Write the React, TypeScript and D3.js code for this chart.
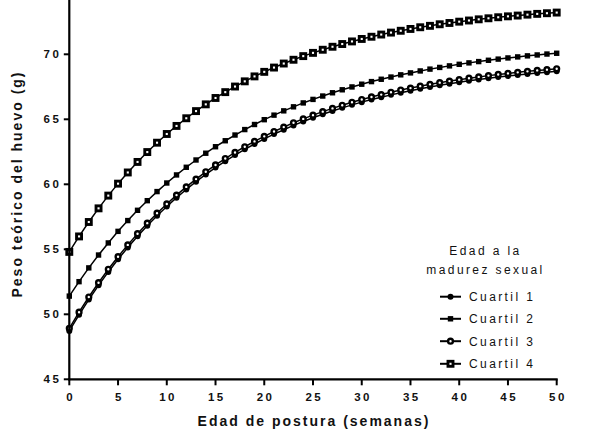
import React from "react";
import * as d3 from "d3";

const weeks: number[] = d3.range(0, 51);

const cuartil1: number[] = [
  48.72, 49.96, 51.13, 52.23, 53.26, 54.23, 55.14, 56.0, 56.81, 57.58,
  58.29, 58.97, 59.6, 60.2, 60.76, 61.29, 61.78, 62.25, 62.69, 63.1,
  63.49, 63.86, 64.2, 64.53, 64.83, 65.12, 65.39, 65.64, 65.88, 66.11,
  66.32, 66.52, 66.7, 66.88, 67.05, 67.2, 67.35, 67.49, 67.62, 67.74,
  67.85, 67.96, 68.06, 68.16, 68.25, 68.33, 68.41, 68.49, 68.56, 68.62, 68.69,
];
const cuartil2: number[] = [
  51.4, 52.51, 53.57, 54.56, 55.49, 56.38, 57.21, 58.0, 58.74, 59.44,
  60.1, 60.72, 61.31, 61.87, 62.39, 62.89, 63.35, 63.79, 64.21, 64.6,
  64.97, 65.32, 65.65, 65.96, 66.26, 66.53, 66.79, 67.04, 67.27, 67.49,
  67.7, 67.9, 68.08, 68.25, 68.42, 68.57, 68.72, 68.86, 68.99, 69.11,
  69.23, 69.34, 69.44, 69.54, 69.63, 69.72, 69.8, 69.88, 69.95, 70.02, 70.08,
];
const cuartil3: number[] = [
  48.92, 50.16, 51.33, 52.43, 53.46, 54.43, 55.34, 56.2, 57.01, 57.78,
  58.49, 59.17, 59.8, 60.4, 60.96, 61.49, 61.98, 62.45, 62.89, 63.3,
  63.69, 64.06, 64.4, 64.73, 65.03, 65.32, 65.59, 65.84, 66.08, 66.31,
  66.52, 66.72, 66.9, 67.08, 67.25, 67.4, 67.55, 67.69, 67.82, 67.94,
  68.05, 68.16, 68.26, 68.36, 68.45, 68.53, 68.61, 68.69, 68.76, 68.82, 68.89,
];
const cuartil4: number[] = [
  54.8, 55.99, 57.1, 58.15, 59.13, 60.05, 60.91, 61.72, 62.48, 63.2,
  63.87, 64.49, 65.08, 65.63, 66.15, 66.64, 67.09, 67.52, 67.92, 68.3,
  68.65, 68.98, 69.29, 69.58, 69.86, 70.11, 70.35, 70.58, 70.79, 70.99,
  71.18, 71.35, 71.52, 71.67, 71.81, 71.95, 72.08, 72.19, 72.31, 72.41,
  72.51, 72.6, 72.69, 72.77, 72.85, 72.92, 72.98, 73.05, 73.11, 73.16, 73.21,
];

const seriesNames: string[] = ["Cuartil 1", "Cuartil 2", "Cuartil 3", "Cuartil 4"];
const seriesValues: number[][] = [cuartil1, cuartil2, cuartil3, cuartil4];
const markerKinds: string[] = ["dot", "square", "ring", "box"];

const xTicks: number[] = [0, 5, 10, 15, 20, 25, 30, 35, 40, 45, 50];
const yTicks: number[] = [45, 50, 55, 60, 65, 70];

const legendTitle: string[] = ["Edad a la", "madurez sexual"];
const xTitle = "Edad de postura (semanas)";
const yTitle = "Peso teórico del huevo (g)";

const W = 589;
const H = 436;
const FONT = "'Liberation Sans', Arial, sans-serif";
const INK = "#111";

function Marker({ kind, cx, cy }: { kind: string; cx: number; cy: number }) {
  if (kind === "dot") return <circle cx={cx} cy={cy} r={3} fill="#000" />;
  if (kind === "square")
    return <rect x={cx - 2.7} y={cy - 2.7} width={5.4} height={5.4} fill="#000" />;
  if (kind === "ring")
    return <circle cx={cx} cy={cy} r={2.4} fill="#fff" stroke="#000" strokeWidth={2.4} />;
  return (
    <rect x={cx - 2.5} y={cy - 2.5} width={5} height={5} fill="#fff" stroke="#000" strokeWidth={2.9} />
  );
}

export default function App() {
  const x = d3.scaleLinear().domain([0, 50]).range([69.3, 556.7]);
  const y = d3.scaleLinear().domain([45, 75]).range([379.3, -10.7]);
  const line = d3
    .line<number>()
    .x((_, i) => x(weeks[i]))
    .y((d) => y(d));

  const legendX = 440;
  const legendRows = [296.7, 318.8, 341.2, 363.8];

  return (
    <svg
      width={W}
      height={H}
      style={{ position: "absolute", left: 0, top: 0, background: "#fff" }}
      fontFamily={FONT}
    >
      <rect x={0} y={0} width={W} height={H} fill="#fff" />
      {seriesValues.map((vals, si) => (
        <g key={si}>
          <path d={line(vals) || ""} fill="none" stroke="#000" strokeWidth={1.5} />
          {vals.map((v, i) => (
            <Marker key={i} kind={markerKinds[si]} cx={x(weeks[i])} cy={y(v)} />
          ))}
        </g>
      ))}

      <line x1={x(0)} x2={x(0)} y1={y(45) + 1} y2={y(75)} stroke="#000" strokeWidth={2.2} />
      <line x1={x(0) - 1.1} x2={x(50) + 1} y1={y(45)} y2={y(45)} stroke="#000" strokeWidth={2.2} />
      {yTicks.map((t) => (
        <g key={"y" + t}>
          <line x1={x(0) - 5.5} x2={x(0)} y1={y(t)} y2={y(t)} stroke="#000" strokeWidth={2} />
          <text
            x={x(0) - 8}
            y={y(t)}
            dy="0.36em"
            textAnchor="end"
            fontSize={11.5}
            fontWeight="bold"
            letterSpacing={2.5}
            fill={INK}
          >
            {t}
          </text>
        </g>
      ))}
      {xTicks.map((t) => (
        <g key={"x" + t}>
          <line x1={x(t)} x2={x(t)} y1={y(45)} y2={y(45) + 6} stroke="#000" strokeWidth={2} />
          <text
            x={x(t) + 1.3}
            y={401}
            textAnchor="middle"
            fontSize={11.5}
            fontWeight="bold"
            letterSpacing={2.5}
            fill={INK}
          >
            {t}
          </text>
        </g>
      ))}

      <text
        x={(x(0) + x(50)) / 2 + 1}
        y={426}
        textAnchor="middle"
        fontSize={14}
        fontWeight="bold"
        letterSpacing={2}
        fill={INK}
      >
        {xTitle}
      </text>
      <text
        transform={`translate(22, 184) rotate(-90)`}
        textAnchor="middle"
        fontSize={14}
        fontWeight="bold"
        letterSpacing={2}
        fill={INK}
      >
        {yTitle}
      </text>

      {legendTitle.map((l, i) => (
        <text
          key={l}
          x={485.5}
          y={255 + i * 19}
          textAnchor="middle"
          fontSize={12}
          letterSpacing={2.4}
          fill={INK}
        >
          {l}
        </text>
      ))}
      {seriesNames.map((n, i) => (
        <g key={n}>
          <line x1={legendX} x2={legendX + 21} y1={legendRows[i]} y2={legendRows[i]} stroke="#000" strokeWidth={2} />
          <Marker kind={markerKinds[i]} cx={legendX + 10.5} cy={legendRows[i]} />
          <text
            x={469}
            y={legendRows[i]}
            dy="0.36em"
            fontSize={12}
            letterSpacing={2.4}
            fill={INK}
          >
            {n}
          </text>
        </g>
      ))}
    </svg>
  );
}
